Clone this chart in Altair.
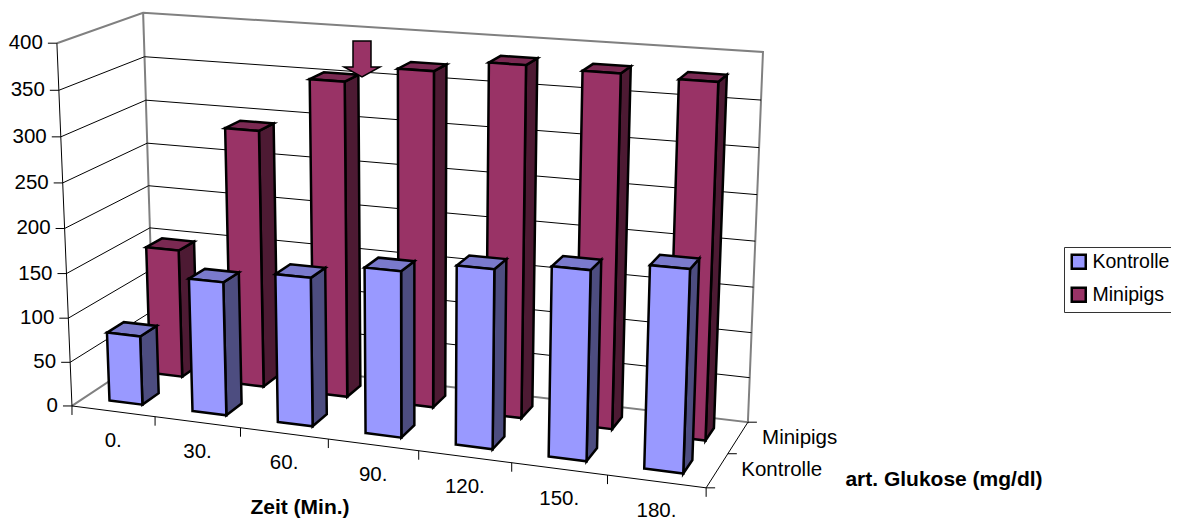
import numpy as np
import altair as alt

CATEGORIES = ["0.", "30.", "60.", "90.", "120.", "150.", "180."]
SERIES = ["Kontrolle", "Minipigs"]
KONTROLLE = [78, 149, 164, 181, 193, 202, 213]
MINIPIGS = [148, 292, 353, 371, 384, 382, 380]
VALUE_TICKS = [0, 50, 100, 150, 200, 250, 300, 350, 400]
FONT = "Liberation Sans"

# camera calibration of the 3D box: (category, depth, value) -> page pixel
ANCHORS = [
    ((0, 0, 0), (72, 406)), ((7, 0, 0), (706, 488)), ((7, 2, 0), (748, 422)),
    ((0, 0, 400), (57, 43)), ((0, 2, 400), (143, 13)),
    ((7, 2, 400), (763, 52)),
]
A, b = [], []
for (u, v, w), (x, y) in ANCHORS:
    A.append([u, v, w, 1, 0, 0, 0, 0, -x * u, -x * v, -x * w]); b.append(x)
    A.append([0, 0, 0, 0, u, v, w, 1, -y * u, -y * v, -y * w]); b.append(y)
CAM = np.append(np.linalg.lstsq(np.array(A, float), np.array(b, float), rcond=None)[0], 1).reshape(3, 4)


def P(u, v, w):
    x, y, h = CAM @ np.array([u, v, w, 1.0])
    return [float(x / h), float(y / h)]


def feature(kind, coords, face=None):
    return {"type": "Feature", "properties": {"face": face},
            "geometry": {"type": kind, "coordinates": coords}}


def poly(pts, face):
    return feature("Polygon", [pts + [pts[0]]], face)


proj = dict(type="identity", scale=1, translate=[-8, -8])
GAP = 0.3
bars = []
for s, vals in ((1, MINIPIGS), (0, KONTROLLE)):
    name = SERIES[s]
    v0, v1 = s + GAP, s + 1 - GAP
    for i, val in enumerate(vals):
        u0, u1 = i + GAP, i + 1 - GAP
        bars.append(poly([P(u1, v0, 0), P(u1, v1, 0), P(u1, v1, val), P(u1, v0, val)], name + " side"))
        bars.append(poly([P(u0, v0, val), P(u1, v0, val), P(u1, v1, val), P(u0, v1, val)], name + " top"))
        bars.append(poly([P(u0, v0, 0), P(u1, v0, 0), P(u1, v0, val), P(u0, v0, val)], name))

grid = []
for t in VALUE_TICKS[1:-1]:
    grid.append(feature("LineString", [P(0, 0, t), P(0, 2, t), P(7, 2, t)]))
frame = [feature("LineString", [P(0, 0, 400), P(0, 2, 400), P(7, 2, 400), P(7, 2, 0), P(0, 2, 0), P(0, 0, 0)]),
         feature("LineString", [P(0, 2, 400), P(0, 2, 0)])]
axes = [feature("LineString", [P(0, 0, 400), P(0, 0, 0), P(7, 0, 0), P(7, 2, 0)])]
for t in VALUE_TICKS:
    x, y = P(0, 0, t)
    axes.append(feature("LineString", [[x - 9, y], [x, y]]))
for i in range(8):
    x, y = P(i, 0, 0)
    axes.append(feature("LineString", [[x, y], [x, y + 9]]))
for d in range(3):
    x, y = P(7, d, 0)
    axes.append(feature("LineString", [[x, y], [x + 9, y]]))


def lines(feats, color, width):
    return alt.Chart(alt.Data(values=feats)).mark_geoshape(
        filled=False, stroke=color, strokeWidth=width).project(**proj)


def text(rows, size=20.5, weight="normal", **kw):
    return alt.Chart(alt.Data(values=rows)).mark_text(
        font=FONT, fontSize=size, fontWeight=weight, color="black", **kw
    ).encode(longitude="lon:Q", latitude="lat:Q", text="t:N").project(**proj)


def at(p, t):
    return {"lon": p[0], "lat": p[1], "t": t}


bar_layer = alt.Chart(alt.Data(values=bars)).mark_geoshape(
    stroke="black", strokeWidth=2.5, strokeJoin="miter"
).encode(
    fill=alt.Fill("properties.face:N",
        scale=alt.Scale(
            domain=["Kontrolle", "Minipigs", "Kontrolle side", "Kontrolle top", "Minipigs side", "Minipigs top"],
            range=["#9999FF", "#993366", "#4D4D80", "#7A7ACC", "#4D1A33", "#7A2952"]),
        legend=alt.Legend(values=SERIES, title=None, orient="none", legendX=1056, legendY=239,
            symbolType="square", symbolSize=196, symbolStrokeColor="black", symbolStrokeWidth=2.5,
            labelFont=FONT, labelFontSize=19.5, labelColor="black", labelOffset=4, rowPadding=8,
            padding=5, fillColor="white", strokeColor="#333333", symbolOpacity=1)),
).project(**proj)

arrow = alt.Chart(alt.Data(values=[at([362, 59], "")])).mark_point(
    shape="M-.5,-1 H.5 V.44 H1 L0,1 L-1,.44 H-.5 Z", size=1296, filled=True,
    fill="#993366", stroke="black", strokeWidth=1.5, opacity=1
).encode(longitude="lon:Q", latitude="lat:Q").project(**proj)

cat_labels = text([at(P(i + 0.5, 0, 0), c) for i, c in enumerate(CATEGORIES)], dy=30, align="center", baseline="middle")
val_labels = text([at(P(0, 0, t), str(t)) for t in VALUE_TICKS], dx=-14, align="right", baseline="middle")
depth_labels = text([at(P(7, d + 0.5, 0), n) for d, n in enumerate(SERIES)], dx=24, align="left", baseline="middle")
titles = text([at([300, 508], "Zeit (Min.)"), at([944, 480], "art. Glukose (mg/dl)")], size=21, weight="bold", align="center", baseline="middle")

chart = alt.layer(
    lines(frame, "#808080", 2), lines(grid, "black", 1), bar_layer, arrow,
    lines(axes, "black", 1), cat_labels, val_labels, depth_labels, titles,
).properties(width=1163, height=515, padding=0, autosize=alt.AutoSizeParams(type="none")
).configure_view(stroke=None)

chart.save("out.html", embed_options={"renderer": "svg", "actions": False})
